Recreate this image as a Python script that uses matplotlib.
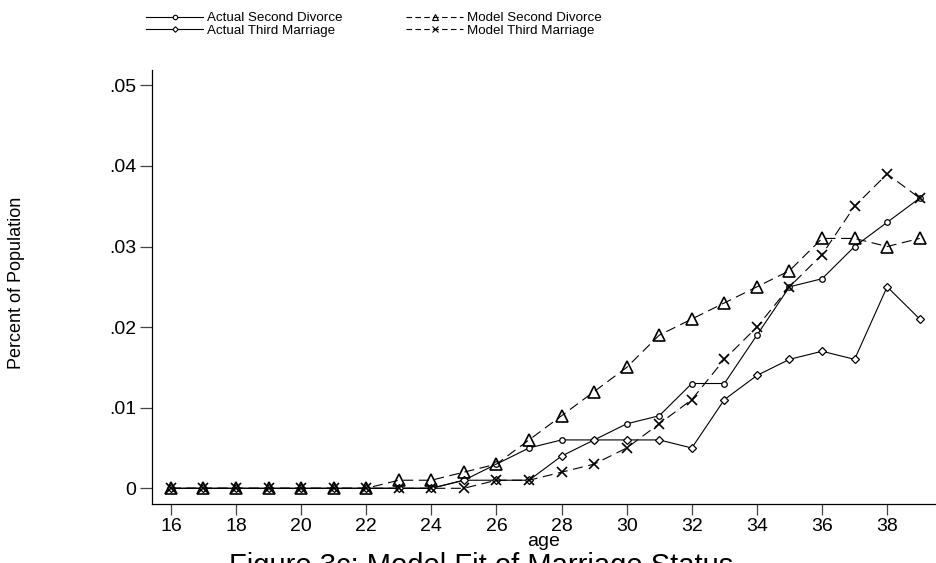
import matplotlib
matplotlib.use("Agg")
import matplotlib.pyplot as plt
from matplotlib.lines import Line2D

plt.rcParams['font.family'] = ['Liberation Sans', 'DejaVu Sans']

ages = list(range(16, 40))

actual_second_divorce = [0, 0, 0, 0, 0, 0, 0, 0, 0, 0.001, 0.003, 0.005,
                         0.006, 0.006, 0.008, 0.009, 0.013, 0.013, 0.019,
                         0.025, 0.026, 0.030, 0.033, 0.036]
actual_third_marriage = [0, 0, 0, 0, 0, 0, 0, 0, 0, 0.001, 0.001, 0.001,
                         0.004, 0.006, 0.006, 0.006, 0.005, 0.011, 0.014,
                         0.016, 0.017, 0.016, 0.025, 0.021]
model_second_divorce = [0, 0, 0, 0, 0, 0, 0, 0.001, 0.001, 0.002, 0.003,
                        0.006, 0.009, 0.012, 0.015, 0.019, 0.021, 0.023,
                        0.025, 0.027, 0.031, 0.031, 0.030, 0.031]
model_third_marriage = [0, 0, 0, 0, 0, 0, 0, 0, 0, 0, 0.001, 0.001, 0.002,
                        0.003, 0.005, 0.008, 0.011, 0.016, 0.020, 0.025,
                        0.029, 0.035, 0.039, 0.036]

x_ticks = list(range(16, 40, 2))
y_ticks = [0, 0.01, 0.02, 0.03, 0.04, 0.05]
y_tick_labels = ["0", ".01", ".02", ".03", ".04", ".05"]

W, H = 936, 563
fig = plt.figure(figsize=(W / 100, H / 100), dpi=100)
left, right, bottom, top = 152, 936, 504, 70
ax = fig.add_axes([left / W, 1 - bottom / H, (right - left) / W, (bottom - top) / H])

lw = 0.8
dash = (0, (9, 5))
ax.plot(ages, actual_second_divorce, color='black', lw=lw, marker='o',
        ms=4, mfc='white', mec='black', mew=0.9, label='Actual Second Divorce')
ax.plot(ages, actual_third_marriage, color='black', lw=lw, marker='D',
        ms=3.6, mfc='white', mec='black', mew=0.9, label='Actual Third Marriage')
ax.plot(ages, model_second_divorce, color='black', lw=lw, ls=dash, marker='^',
        ms=8, mfc='none', mec='black', mew=1.2, label='Model Second Divorce')
ax.plot(ages, model_third_marriage, color='black', lw=lw, ls=dash, marker='x',
        ms=6.5, mec='black', mew=1.2, label='Model Third Marriage')

ax.set_xlim(15.42, 39.5)
ax.set_ylim(-0.00195, 0.0519)
ax.set_xticks(x_ticks)
ax.set_yticks(y_ticks)
ax.set_yticklabels(y_tick_labels)
ax.tick_params(axis='both', direction='out', width=0.9, color='#444444',
               labelsize=14)
ax.tick_params(axis='x', length=8, pad=2)
ax.tick_params(axis='y', length=8.6, pad=2.5)
for s in ['top', 'right']:
    ax.spines[s].set_visible(False)
for s in ['left', 'bottom']:
    ax.spines[s].set_linewidth(0.9)

ax.set_xlabel('age', fontsize=14, labelpad=-1)
ax.set_ylabel('Percent of Population', fontsize=13)
ax.yaxis.set_label_coords(-(left - 25) / (right - left), 0.509)

fig.text(481 / W, (H - 574) / H, 'Figure 3c: Model Fit of Marriage Status',
         ha='center', va='baseline', fontsize=21)

leg_dash = (0, (5, 3))
handles = [
    Line2D([], [], color='black', lw=lw, marker='o', ms=3.2, mfc='white', mec='black', mew=0.8),
    Line2D([], [], color='black', lw=lw, marker='D', ms=2.8, mfc='white', mec='black', mew=0.8),
    Line2D([], [], color='black', lw=lw, ls=leg_dash, marker='^', ms=5, mfc='none', mec='black', mew=0.8),
    Line2D([], [], color='black', lw=lw, ls=leg_dash, marker='x', ms=4.5, mec='black', mew=0.8),
]
labels = ['Actual Second Divorce', 'Actual Third Marriage',
          'Model Second Divorce', 'Model Third Marriage']
fig.legend(handles, labels, ncol=2, loc='upper left',
           bbox_to_anchor=(146 / W, 1 - 12 / H), frameon=False, fontsize=9.6,
           handlelength=4.3, handletextpad=0.25, columnspacing=4.8,
           labelspacing=0.0, borderpad=0, borderaxespad=0)

fig.savefig('out.png', dpi=100)
